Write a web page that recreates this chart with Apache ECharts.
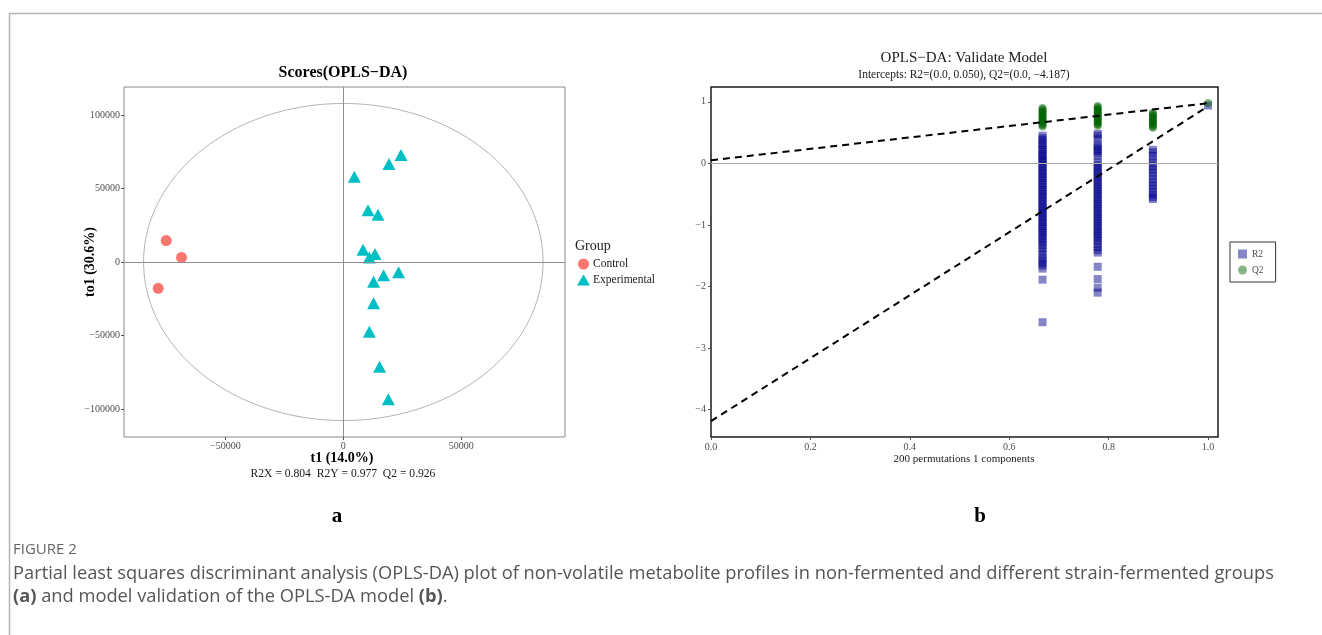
<!DOCTYPE html>
<html>
<head>
<meta charset="utf-8">
<script src="https://cdn.jsdelivr.net/npm/echarts@6/dist/echarts.min.js"></script>
<style>
html,body{margin:0;padding:0;background:#fff;}
#main{width:1322px;height:635px;}
</style>
</head>
<body>
<div id="main"></div>
<script>
// ---------- Panel a: OPLS-DA scores ----------
const controlT1  = [-75100, -68600, -78500];
const controlTo1 = [14600, 3100, -17900];
const expT1  = [24450, 19360, 4660, 10470, 14700, 8350, 13430, 11020, 17080, 23430, 12840, 12840, 11020, 15380, 19070];
const expTo1 = [72750, 66650, 58040, 35260, 32070, 8340, 5420, 3120, -9090, -7050, -13360, -28070, -47460, -71190, -93360];
const ellipseSemiT1 = 84700;   // Hotelling T2 ellipse half-width
const ellipseSemiTo1 = 107800; // half-height
const scoreXTicks = [-50000, 0, 50000];
const scoreYTicks = [-100000, -50000, 0, 50000, 100000];

// ---------- Panel b: permutation validation ----------
const permX = [0.667, 0.778, 0.889, 1.0];
const r2Col1 = [0.45, 0.41, 0.38, 0.33, 0.30, 0.26, 0.22, 0.19, 0.15, 0.12, 0.08, 0.05, 0.02, -0.02, -0.06, -0.10, -0.13, -0.17, -0.21, -0.24, -0.28, -0.32, -0.35, -0.39, -0.43, -0.46, -0.50, -0.54, -0.57, -0.61, -0.65, -0.69, -0.72, -0.76, -0.80, -0.83, -0.87, -0.91, -0.95, -0.98, -1.02, -1.06, -1.10, -1.13, -1.17, -1.21, -1.25, -1.29, -1.33, -1.38, -1.43, -1.48, -1.54, -1.58, -1.62, -1.66, -1.71, -1.89, -2.58];
const r2Col2 = [0.48, 0.45, 0.40, 0.31, 0.27, 0.24, 0.20, 0.16, 0.12, 0.02, -0.02, -0.06, -0.10, -0.14, -0.18, -0.22, -0.26, -0.30, -0.34, -0.38, -0.42, -0.46, -0.50, -0.54, -0.58, -0.62, -0.66, -0.70, -0.74, -0.78, -0.82, -0.86, -0.90, -0.94, -0.98, -1.02, -1.06, -1.10, -1.14, -1.18, -1.22, -1.26, -1.31, -1.36, -1.41, -1.45, -1.68, -1.88, -2.02, -2.10];
const r2Col3 = [0.22, 0.18, 0.12, 0.06, 0.0, -0.05, -0.10, -0.15, -0.20, -0.26, -0.31, -0.36, -0.41, -0.46, -0.51, -0.55, -0.58];
const r2Col4 = [0.94];
const q2Col1 = [0.90, 0.88, 0.86, 0.84, 0.82, 0.80, 0.78, 0.76, 0.74, 0.72, 0.70, 0.68, 0.66, 0.64, 0.62, 0.60];
const q2Col2 = [0.93, 0.91, 0.89, 0.87, 0.85, 0.83, 0.81, 0.79, 0.77, 0.75, 0.73, 0.71, 0.69, 0.67, 0.65, 0.63, 0.61];
const q2Col3 = [0.82, 0.80, 0.78, 0.76, 0.74, 0.72, 0.70, 0.68, 0.66, 0.64, 0.62, 0.60, 0.58];
const q2Col4 = [0.98];
const r2Intercept = 0.050, q2Intercept = -4.187;
const r2Original = 0.977, q2Original = 0.926;
const permXTicks = [0, 0.2, 0.4, 0.6, 0.8, 1.0];
const permYTicks = [-4, -3, -2, -1, 0, 1];

// ---------- build ----------
const serif = 'Liberation Serif';
const minusFmt = v => (v < 0 ? '\u2212' + Math.abs(v) : String(v));

const ellipsePts = [];
for (let i = 0; i <= 180; i++) {
  const a = i / 180 * 2 * Math.PI;
  ellipsePts.push([ellipseSemiT1 * Math.cos(a), ellipseSemiTo1 * Math.sin(a)]);
}
const zip = (xs, ys) => xs.map((x, i) => [x, ys[i]]);
const colPts = (cols) => cols.flatMap((col, k) => col.map(v => [permX[k], v]));
const r2Pts = colPts([r2Col1, r2Col2, r2Col3, r2Col4]);
const q2Pts = colPts([q2Col1, q2Col2, q2Col3, q2Col4]);

const tickStyle = {color:'#555', width:1};
const labelStyle = {fontFamily: serif, fontSize: 10, color:'#4d4d4d'};
const noLine = {show:false, onZero:false};

const option = {
  animation: false,
  grid: [
    {left:124, top:87, width:441, height:350, show:true, borderColor:'#8a8a8a', borderWidth:1, backgroundColor:'#fff'},
    {left:711, top:87, width:507, height:350, show:true, borderColor:'#1a1a1a', borderWidth:1.5, backgroundColor:'#fff'}
  ],
  xAxis: [
    {type:'value', gridIndex:0, min:-93000, max:94000, splitLine:{show:false}, axisLine:noLine,
     axisTick:{show:true, length:3, lineStyle:tickStyle, customValues:scoreXTicks},
     axisLabel:Object.assign({customValues:scoreXTicks, formatter:minusFmt, margin:4}, labelStyle)},
    {type:'value', gridIndex:1, min:0, max:1.02, splitLine:{show:false}, axisLine:noLine,
     axisTick:{show:true, length:3, lineStyle:tickStyle, customValues:permXTicks},
     axisLabel:Object.assign({customValues:permXTicks, formatter:v => v.toFixed(1), margin:5}, labelStyle)}
  ],
  yAxis: [
    {type:'value', gridIndex:0, min:-119000, max:119000, splitLine:{show:false}, axisLine:noLine,
     axisTick:{show:true, length:3, lineStyle:tickStyle, customValues:scoreYTicks},
     axisLabel:Object.assign({customValues:scoreYTicks, formatter:minusFmt, margin:4}, labelStyle)},
    {type:'value', gridIndex:1, min:-4.445, max:1.24, splitLine:{show:false}, axisLine:noLine,
     axisTick:{show:true, length:3, lineStyle:tickStyle, customValues:permYTicks},
     axisLabel:Object.assign({customValues:permYTicks, formatter:minusFmt, margin:5}, labelStyle)}
  ],
  legend: [
    {left:577, top:258, orient:'vertical', itemWidth:13, itemHeight:11, itemGap:4, padding:0,
     textStyle:{fontFamily:serif, fontSize:11.5, color:'#1a1a1a', padding:[0,0,0,-2]},
     data:[{name:'Control', icon:'circle'}, {name:'Experimental', icon:'triangle'}]},
    {left:1230, top:242, orient:'vertical', itemWidth:9, itemHeight:9, itemGap:6, padding:[7,12,7,8],
     borderColor:'#333', borderWidth:1,
     textStyle:{fontFamily:serif, fontSize:9.5, color:'#4d4d4d'},
     data:[{name:'R2', icon:'rect'}, {name:'Q2', icon:'circle'}]}
  ],
  series: [
    {type:'line', xAxisIndex:0, yAxisIndex:0, data:ellipsePts, showSymbol:false, symbol:'none', silent:true,
     lineStyle:{color:'#b3b3b3', width:1}, z:1,
     markLine:{silent:true, symbol:'none', label:{show:false}, lineStyle:{color:'#8f8f8f', width:1, type:'solid'},
       data:[{xAxis:0}, {yAxis:0}]}},
    {name:'Control', type:'scatter', xAxisIndex:0, yAxisIndex:0, data:zip(controlT1, controlTo1),
     symbol:'circle', symbolSize:11, itemStyle:{color:'#F8766D', opacity:1}, z:3},
    {name:'Experimental', type:'scatter', xAxisIndex:0, yAxisIndex:0, data:zip(expT1, expTo1),
     symbol:'triangle', symbolSize:[13,12], itemStyle:{color:'#00BFC4', opacity:1}, z:3},

    {type:'line', xAxisIndex:1, yAxisIndex:1, data:[], silent:true, z:1,
     markLine:{silent:true, symbol:'none', label:{show:false}, lineStyle:{color:'#a8a8a8', width:1, type:'solid'},
       data:[{yAxis:0}]}},
    {name:'R2', type:'scatter', xAxisIndex:1, yAxisIndex:1, data:r2Pts, symbol:'rect', symbolSize:8,
     itemStyle:{color:'rgba(0,0,139,0.6)'}, z:3},
    {name:'Q2', type:'scatter', xAxisIndex:1, yAxisIndex:1, data:q2Pts, symbol:'circle', symbolSize:8,
     itemStyle:{color:'rgba(0,100,0,0.6)'}, z:4},
    {type:'line', xAxisIndex:1, yAxisIndex:1, data:[[0, r2Intercept], [1, r2Original]], showSymbol:false, symbol:'none',
     silent:true, lineStyle:{color:'#000', width:2, type:[7,5]}, z:6},
    {type:'line', xAxisIndex:1, yAxisIndex:1, data:[[0, q2Intercept], [1, q2Original]], showSymbol:false, symbol:'none',
     silent:true, lineStyle:{color:'#000', width:2, type:[7,5]}, z:6}
  ],
  graphic: [
    // frame
    {type:'line', shape:{x1:9, y1:13.5, x2:1322, y2:13.5}, style:{stroke:'#b4b4b4', lineWidth:1.5}, silent:true},
    {type:'line', shape:{x1:9.5, y1:13, x2:9.5, y2:635}, style:{stroke:'#b4b4b4', lineWidth:1.5}, silent:true},
    // panel a texts
    {type:'text', x:343, y:73, style:{text:'Scores(OPLS\u2212DA)', fontFamily:serif, fontWeight:'bold', fontSize:16, fill:'#000', textAlign:'center', textVerticalAlign:'middle'}},
    {type:'text', x:90, y:262, rotation:Math.PI/2, style:{text:'to1 (30.6%)', fontFamily:serif, fontWeight:'bold', fontSize:14, fill:'#000', textAlign:'center', textVerticalAlign:'middle'}},
    {type:'text', x:342, y:458, style:{text:'t1 (14.0%)', fontFamily:serif, fontWeight:'bold', fontSize:14, fill:'#000', textAlign:'center', textVerticalAlign:'middle'}},
    {type:'text', x:343, y:474, style:{text:'R2X = 0.804  R2Y = 0.977  Q2 = 0.926', fontFamily:serif, fontSize:11.6, fill:'#1a1a1a', textAlign:'center', textVerticalAlign:'middle'}},
    {type:'text', x:575, y:246, style:{text:'Group', fontFamily:serif, fontSize:14, fill:'#1a1a1a', textAlign:'left', textVerticalAlign:'middle'}},
    // panel b texts
    {type:'text', x:964, y:58, style:{text:'OPLS\u2212DA: Validate Model', fontFamily:serif, fontSize:15, fill:'#1a1a1a', textAlign:'center', textVerticalAlign:'middle'}},
    {type:'text', x:964, y:75, style:{text:'Intercepts: R2=(0.0, 0.050), Q2=(0.0, \u22124.187)', fontFamily:serif, fontSize:11.5, fill:'#1a1a1a', textAlign:'center', textVerticalAlign:'middle'}},
    {type:'text', x:964, y:459, style:{text:'200 permutations 1 components', fontFamily:serif, fontSize:11, fill:'#1a1a1a', textAlign:'center', textVerticalAlign:'middle'}},
    // panel letters
    {type:'text', x:337, y:517, style:{text:'a', fontFamily:serif, fontWeight:'bold', fontSize:21, fill:'#000', textAlign:'center', textVerticalAlign:'middle'}},
    {type:'text', x:980, y:517, style:{text:'b', fontFamily:serif, fontWeight:'bold', fontSize:21, fill:'#000', textAlign:'center', textVerticalAlign:'middle'}},
    // caption
    {type:'text', x:13, y:550, style:{text:'FIGURE 2', fontFamily:'Open Sans', fontSize:15, fill:'#666', textAlign:'left', textVerticalAlign:'middle'}},
    {type:'text', x:13, y:574, style:{text:'Partial least squares discriminant analysis (OPLS-DA) plot of non-volatile metabolite profiles in non-fermented and different strain-fermented groups', fontFamily:'Open Sans', fontSize:18.3, fill:'#555', textAlign:'left', textVerticalAlign:'middle'}},
    {type:'text', x:13, y:597, style:{text:'{b|(a)} and model validation of the OPLS-DA model {b|(b)}.', fontFamily:'Open Sans', fontSize:18.3, fill:'#555', textAlign:'left', textVerticalAlign:'middle',
      rich:{b:{fontFamily:'Open Sans', fontSize:18.3, fontWeight:'bold', fill:'#555'}}}}
  ]
};

const chart = echarts.init(document.getElementById('main'), null, {renderer:'canvas'});
chart.setOption(option);
</script>
</body>
</html>
